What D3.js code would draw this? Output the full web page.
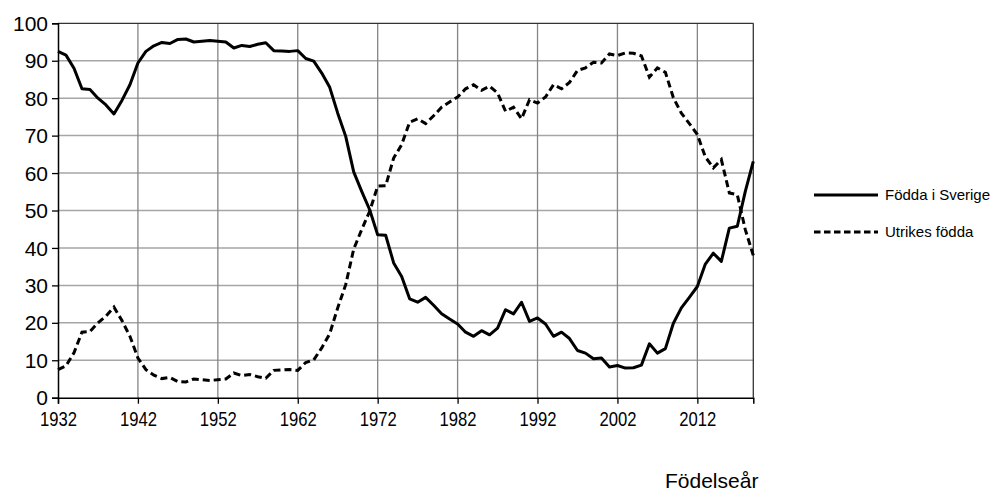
<!DOCTYPE html>
<html>
<head>
<meta charset="utf-8">
<script src="https://cdn.jsdelivr.net/npm/d3@7"></script>
<style>
  body { margin: 0; background: #fff; }
  text { font-family: "Liberation Sans", Arial, sans-serif; fill: #000; }
</style>
</head>
<body>
<div id="chart"></div>
<script>
var years = d3.range(1932, 2020);
var xTicks = [1932, 1942, 1952, 1962, 1972, 1982, 1992, 2002, 2012];
var yTicks = [0, 10, 20, 30, 40, 50, 60, 70, 80, 90, 100];
var seriesNames = ['Födda i Sverige', 'Utrikes födda'];

var foddaSverige = [
    92.5, 91.5, 88.0, 82.5, 82.3, 80.0, 78.2, 75.8, 79.4, 83.6,
    89.4, 92.5, 94.0, 94.9, 94.6, 95.7, 95.8, 95.0, 95.2, 95.4,
    95.2, 95.0, 93.4, 94.1, 93.8, 94.4, 94.8, 92.7, 92.6, 92.5,
    92.7, 90.6, 89.9, 86.7, 82.9, 76.0, 69.8, 60.3, 55.1, 50.2,
    43.5, 43.4, 36.0, 32.4, 26.4, 25.5, 26.8, 24.7, 22.4, 21.0,
    19.7, 17.5, 16.4, 17.9, 16.8, 18.6, 23.5, 22.4, 25.5, 20.4,
    21.3, 19.7, 16.4, 17.5, 15.8, 12.6, 11.9, 10.4, 10.6, 8.2,
    8.6, 7.9, 8.0, 8.7, 14.4, 11.9, 13.1, 19.9, 24.0, 26.8,
    29.7, 35.7, 38.6, 36.4, 45.3, 45.8, 55.1, 63.1
];
var utrikesFodda = [
    7.5, 8.5, 12.0, 17.5, 17.7, 20.0, 21.8, 24.2, 20.6, 16.4,
    10.6, 7.5, 6.0, 5.1, 5.4, 4.3, 4.2, 5.0, 4.8, 4.6,
    4.8, 5.0, 6.6, 5.9, 6.2, 5.6, 5.2, 7.3, 7.4, 7.5,
    7.3, 9.4, 10.1, 13.3, 17.1, 24.0, 30.2, 39.7, 44.9, 49.8,
    56.5, 56.6, 64.0, 67.6, 73.6, 74.5, 73.2, 75.3, 77.6, 79.0,
    80.3, 82.5, 83.6, 82.1, 83.2, 81.4, 76.5, 77.6, 74.5, 79.6,
    78.7, 80.3, 83.6, 82.5, 84.2, 87.4, 88.1, 89.6, 89.4, 91.8,
    91.4, 92.1, 92.0, 91.3, 85.6, 88.1, 86.9, 80.1, 76.0, 73.2,
    70.3, 64.3, 61.4, 63.6, 54.7, 54.2, 44.9, 38.0
];

(function() {
    var width = 995, height = 491,
        plotLeft = 58, plotRight = 753.3, plotTop = 23.3, plotBottom = 397.7;

    var svg = d3.select('#chart').append('svg')
        .attr('width', width)
        .attr('height', height);

    var x = d3.scaleLinear().domain([1932, 2019]).range([plotLeft, plotRight]);
    var y = d3.scaleLinear().domain([0, 100]).range([plotBottom, plotTop]);

    // grid
    svg.append('g').selectAll('line')
        .data(yTicks.slice(1, -1))
        .enter().append('line')
        .attr('x1', plotLeft).attr('x2', plotRight)
        .attr('y1', function(d) { return y(d); })
        .attr('y2', function(d) { return y(d); })
        .attr('stroke', '#a6a6a6')
        .attr('stroke-width', 1.5);

    svg.append('g').selectAll('line')
        .data(xTicks.slice(1))
        .enter().append('line')
        .attr('y1', plotTop).attr('y2', plotBottom)
        .attr('x1', function(d) { return x(d); })
        .attr('x2', function(d) { return x(d); })
        .attr('stroke', '#858585')
        .attr('stroke-width', 1.3);

    // frame top/right
    svg.append('line').attr('x1', plotLeft).attr('x2', plotRight).attr('y1', plotTop).attr('y2', plotTop)
        .attr('stroke', '#333').attr('stroke-width', 1.3);
    svg.append('line').attr('x1', plotRight).attr('x2', plotRight).attr('y1', plotTop).attr('y2', plotBottom)
        .attr('stroke', '#333').attr('stroke-width', 1.3);

    // axes
    var yAxis = svg.append('g')
        .attr('transform', 'translate(' + plotLeft + ',0)')
        .call(d3.axisLeft(y).tickValues(yTicks).tickSize(6).tickPadding(4));
    var xAxis = svg.append('g')
        .attr('transform', 'translate(0,' + plotBottom + ')')
        .call(d3.axisBottom(x).tickValues(xTicks).tickFormat(d3.format('d')).tickSize(6).tickPadding(7));

    [yAxis, xAxis].forEach(function(a) {
        a.select('.domain').attr('stroke', '#000').attr('stroke-width', 1.5);
        a.selectAll('.tick line').attr('stroke', '#000').attr('stroke-width', 1.3);
        a.selectAll('text').attr('font-size', 21)
            .attr('font-family', '"Liberation Sans", Arial, sans-serif');
    });
    yAxis.selectAll('text').attr('dy', '0.34em');
    xAxis.selectAll('text')
        .attr('textLength', 37)
        .attr('lengthAdjust', 'spacingAndGlyphs');

    // lines
    var line = d3.line()
        .x(function(d, i) { return x(years[i]); })
        .y(function(d) { return y(d); });

    svg.append('path')
        .datum(foddaSverige)
        .attr('d', line)
        .attr('fill', 'none')
        .attr('stroke', '#000')
        .attr('stroke-width', 3)
        .attr('stroke-linejoin', 'round');

    svg.append('path')
        .datum(utrikesFodda)
        .attr('d', line)
        .attr('fill', 'none')
        .attr('stroke', '#000')
        .attr('stroke-width', 3)
        .attr('stroke-dasharray', '7,4');

    // legend
    var legend = svg.append('g').attr('transform', 'translate(814,195)');
    var item = legend.selectAll('g')
        .data(seriesNames)
        .enter().append('g')
        .attr('transform', function(d, i) { return 'translate(0,' + (i * 37) + ')'; });
    item.append('line')
        .attr('x1', 0).attr('x2', 64)
        .attr('stroke', '#000')
        .attr('stroke-width', 3)
        .attr('stroke-dasharray', function(d, i) { return i ? '6.5,3.5' : null; });
    item.append('text')
        .attr('x', 71)
        .attr('dy', '0.35em')
        .attr('font-size', 15)
        .text(function(d) { return d; });

    svg.append('text')
        .attr('x', 665)
        .attr('y', 488)
        .attr('font-size', 21)
        .text('Födelseår');
})();
</script>
</body>
</html>
